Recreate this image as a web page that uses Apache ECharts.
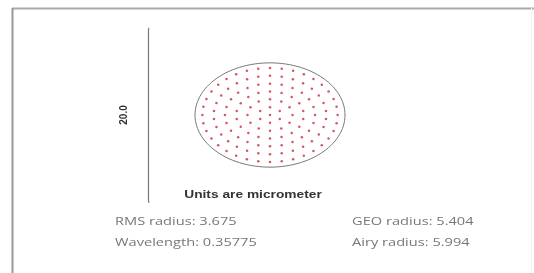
<!DOCTYPE html>
<html>
<head>
<meta charset="utf-8">
<script src="https://cdn.jsdelivr.net/npm/echarts@6/dist/echarts.min.js"></script>
<style>
  html, body { margin: 0; padding: 0; background: #fff; }
  #chart { width: 534px; height: 273px; }
</style>
</head>
<body>
<div id="chart"></div>
<script>
  // spot diagram data (micrometer)
  var scaleBar = [-10, 10];            // 20.0 um scale bar
  var airyRadius = 5.994;
  var ringRadii = [0, 0.9, 1.8, 2.7, 3.6, 4.5, 5.404];
  var ringCounts = [1, 6, 12, 18, 24, 30, 36];
  var statLabels = ['RMS radius: 3.675', 'GEO radius: 5.404', 'Wavelength: 0.35775', 'Airy radius: 5.994'];

  // spot points from the ring table
  var spots = [];
  ringRadii.forEach(function (r, i) {
    var n = ringCounts[i];
    for (var k = 0; k < n; k++) {
      var a = Math.PI / 2 + 2 * Math.PI * k / n;
      spots.push([r * Math.cos(a), r * Math.sin(a)]);
    }
  });

  // airy circle outline
  var airy = [];
  for (var j = 0; j <= 120; j++) {
    var t = 2 * Math.PI * j / 120;
    airy.push([airyRadius * Math.cos(t), airyRadius * Math.sin(t)]);
  }

  var chart = echarts.init(document.getElementById('chart'));
  chart.setOption({
    animation: false,
    grid: { left: 148, top: 28, width: 244, height: 174 },
    xAxis: {
      type: 'value', min: -9.75, max: 9.75, show: false
    },
    yAxis: {
      type: 'value',
      min: scaleBar[0],
      max: scaleBar[1],
      name: '20.0',
      nameLocation: 'middle',
      nameRotate: 90,
      nameGap: 19,
      nameTextStyle: { fontSize: 10, fontWeight: 'bold', color: '#333', fontFamily: 'Liberation Sans Narrow, Liberation Sans' },
      axisLine: { show: true, onZero: false, lineStyle: { color: '#777', width: 1.2 } },
      axisTick: { show: true, inside: true, length: 2, customValues: scaleBar, lineStyle: { color: '#bbb' } },
      axisLabel: { show: false },
      splitLine: { show: false }
    },
    series: [
      {
        type: 'line',
        data: airy,
        showSymbol: false,
        smooth: false,
        lineStyle: { color: '#777', width: 1 },
        silent: true
      },
      {
        type: 'scatter',
        data: spots,
        symbolSize: 2.5,
        itemStyle: { color: '#c93a4a', opacity: 0.85 },
        silent: true
      }
    ],
    graphic: [
      { type: 'line', shape: { x1: 12, y1: 8.5, x2: 534, y2: 8.5 }, style: { stroke: '#aaa', lineWidth: 2 } },
      { type: 'line', shape: { x1: 12.5, y1: 8, x2: 12.5, y2: 273 }, style: { stroke: '#999', lineWidth: 2 } },
      { type: 'line', shape: { x1: 531.5, y1: 8, x2: 531.5, y2: 273 }, style: { stroke: '#f3f3f3', lineWidth: 1 } },
      {
        type: 'text', x: 253, y: 195, scaleX: 1.25,
        style: { text: 'Units are micrometer', fill: '#333', font: 'bold 11px "Liberation Sans"', textAlign: 'center', textVerticalAlign: 'middle' }
      },
      {
        type: 'text', x: 115, y: 222, scaleX: 1.33,
        style: { text: statLabels[0], fill: '#777', font: '11px "Open Sans"', textVerticalAlign: 'middle' }
      },
      {
        type: 'text', x: 352, y: 222, scaleX: 1.33,
        style: { text: statLabels[1], fill: '#777', font: '11px "Open Sans"', textVerticalAlign: 'middle' }
      },
      {
        type: 'text', x: 115, y: 243, scaleX: 1.33,
        style: { text: statLabels[2], fill: '#777', font: '11px "Open Sans"', textVerticalAlign: 'middle' }
      },
      {
        type: 'text', x: 352, y: 243, scaleX: 1.33,
        style: { text: statLabels[3], fill: '#777', font: '11px "Open Sans"', textVerticalAlign: 'middle' }
      }
    ]
  });
</script>
</body>
</html>
